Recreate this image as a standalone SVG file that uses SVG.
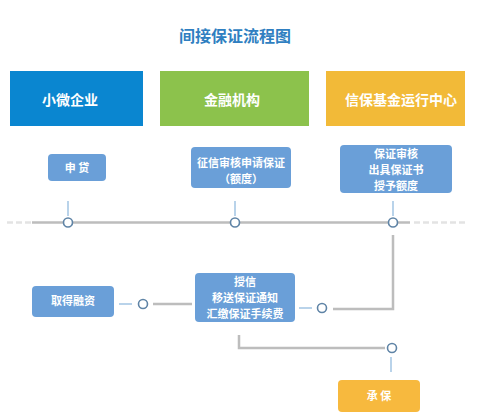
<svg xmlns="http://www.w3.org/2000/svg" width="500" height="414" viewBox="0 0 500 414">
<style>
.t{font-family:"Noto Sans CJK SC","Noto Sans",sans-serif;fill:#fff;text-anchor:middle}
.h{font-size:14px;font-weight:bold}
.s{font-size:11px;font-weight:bold}
.box{fill:#6a9fd8}
.ln{stroke:#bdbdbd;stroke-width:2.5;fill:none}
.st{stroke:#b9d3ea;stroke-width:2;fill:none}
.ds{stroke:#e3e3e3;stroke-width:2.5;stroke-dasharray:6 3;fill:none}
.c{fill:#fff;stroke:#5f84a6;stroke-width:1.6}
</style>
<rect width="500" height="414" fill="#fff"/>
<text x="235" y="42" style="font-family:'Noto Sans CJK SC',sans-serif;font-size:16px;font-weight:bold;fill:#2f7fc1;text-anchor:middle">间接保证流程图</text>
<g id="connectors">
<path class="ds" d="M7 222.5H31"/>
<path class="ds" d="M414 222.5H465"/>
<path class="ln" d="M32 222.5H410"/>
<path class="st" d="M68 201V216M235 201V216M393 201V216"/>
<path class="ln" d="M393 235V309H333"/>
<path class="st" d="M299 308H312"/>
<path class="st" d="M119 304H132"/>
<path class="ln" d="M153 304H192"/>
<path class="ln" d="M239 335V348H385"/>
<path class="st" d="M391 357V372"/>
<circle class="c" cx="68" cy="222.5" r="4.5"/>
<circle class="c" cx="235" cy="222.5" r="4.5"/>
<circle class="c" cx="393" cy="222.5" r="4.5"/>
<circle class="c" cx="322" cy="308" r="4.5"/>
<circle class="c" cx="143" cy="304" r="4.5"/>
<circle class="c" cx="392" cy="348" r="4.5"/>
</g>
<g id="h1"><rect x="10" y="71" width="133" height="55" fill="#0a86d0"/><text class="t h" x="70" y="105">小微企业</text></g>
<g id="h2"><rect x="160" y="71" width="149" height="55" fill="#8cc24c"/><text class="t h" x="232" y="105">金融机构</text></g>
<g id="h3"><rect x="326" y="71" width="139" height="55" fill="#f2ba38"/><text class="t h" x="401" y="105">信保基金运行中心</text></g>
<g id="n1"><rect class="box" x="48" y="154" width="58" height="27" rx="4"/><text class="t s" x="77" y="171.5">申 贷</text></g>
<g id="n2"><rect class="box" x="191" y="147" width="100" height="41" rx="4"/><text class="t s" x="241" y="167">征信审核申请保证</text><text class="t s" x="241" y="183">（额度）</text></g>
<g id="n3"><rect class="box" x="340" y="145" width="112" height="48" rx="4"/><text class="t s" x="396" y="158">保证审核</text><text class="t s" x="396" y="174">出具保证书</text><text class="t s" x="396" y="190">授予额度</text></g>
<g id="n4"><rect class="box" x="32" y="286" width="82" height="31" rx="4"/><text class="t s" x="73" y="305">取得融资</text></g>
<g id="n5"><rect class="box" x="195" y="273" width="100" height="49" rx="4"/><text class="t s" x="245" y="286">授信</text><text class="t s" x="245" y="302">移送保证通知</text><text class="t s" x="245" y="318">汇缴保证手续费</text></g>
<g id="n6"><rect x="338" y="380" width="82" height="32" rx="4" fill="#f7b93e"/><text class="t s" x="379" y="400">承 保</text></g>
</svg>
